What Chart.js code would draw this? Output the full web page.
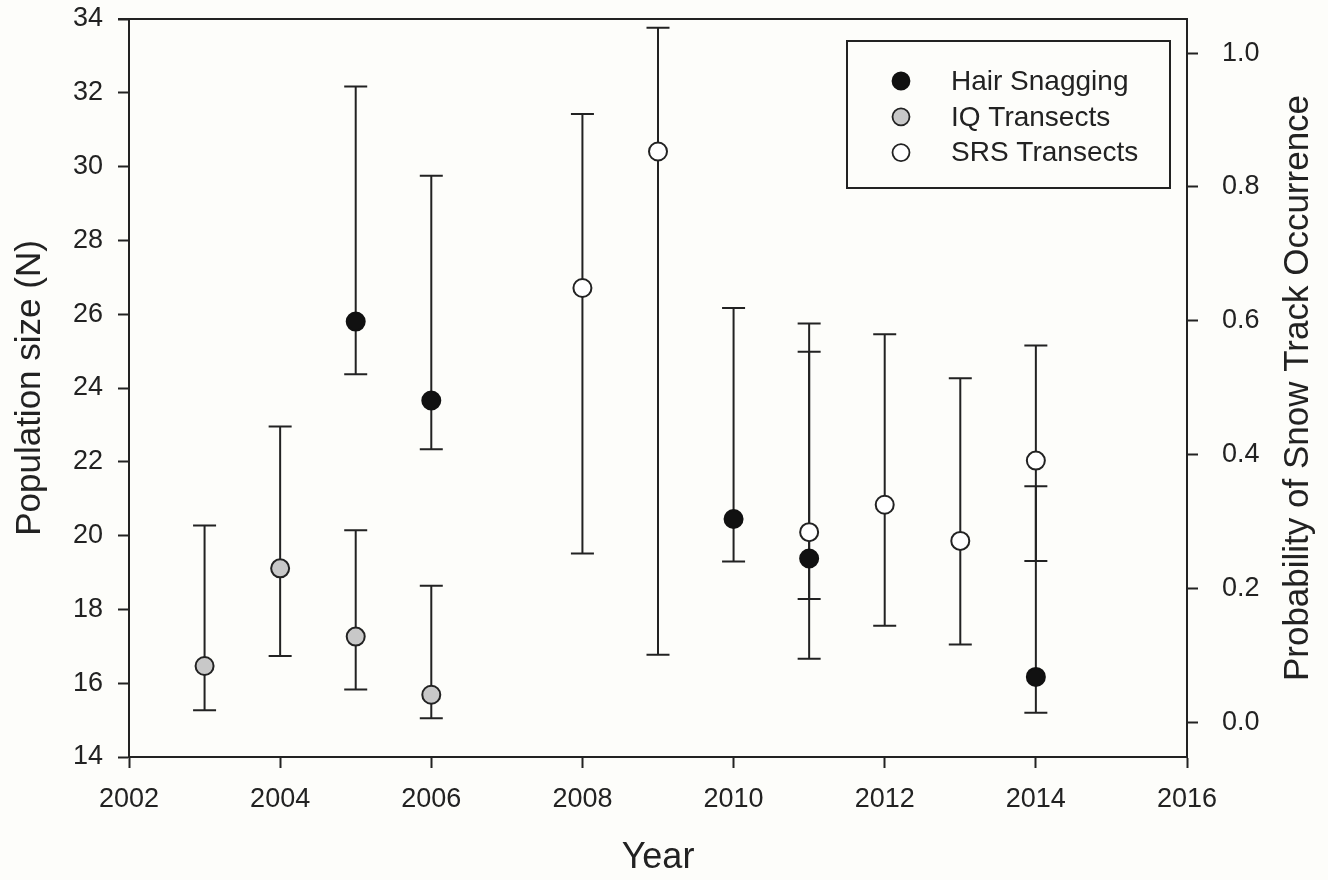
<!DOCTYPE html>
<html>
<head>
<meta charset="utf-8">
<script src="https://cdn.jsdelivr.net/npm/chart.js@4.4.0/dist/chart.umd.min.js"></script>
<style>
  body { margin: 0; background: #fdfdfa; }
  #wrap { width: 1328px; height: 880px; }
</style>
</head>
<body>
<div id="wrap"><canvas id="graph"></canvas></div>
<script>
// Hair snagging: population size (left axis)
const hairYears = [2005, 2006, 2010, 2011, 2014];
const hairN = [25.8, 23.66, 20.45, 19.38, 16.17];
const hairLow = [24.37, 22.34, 19.3, 18.28, 15.2];
const hairHigh = [32.17, 29.75, 26.17, 24.98, 21.34];

// IQ transects: probability of snow track occurrence (right axis)
const iqYears = [2003, 2004, 2005, 2006];
const iqProb = [0.084, 0.23, 0.128, 0.041];
const iqLow = [0.018, 0.099, 0.049, 0.006];
const iqHigh = [0.294, 0.442, 0.287, 0.204];

// SRS transects (right axis)
const srsYears = [2008, 2009, 2011, 2012, 2013, 2014];
const srsProb = [0.649, 0.853, 0.284, 0.325, 0.271, 0.391];
const srsLow = [0.252, 0.101, 0.095, 0.144, 0.116, 0.241];
const srsHigh = [0.909, 1.038, 0.596, 0.58, 0.514, 0.563];

const yearTicks = [2002, 2004, 2006, 2008, 2010, 2012, 2014, 2016];
const popTicks = [14, 16, 18, 20, 22, 24, 26, 28, 30, 32, 34];
const probTicks = [0, 0.2, 0.4, 0.6, 0.8, 1.0];

const rightTitle = 'Probability of Snow Track Occurrence';

const ink = '#222';
const fontFamily = 'Arial, "Liberation Sans", sans-serif';

function toPoints(years, vals, lo, hi) {
    return years.map((x, i) => ({x: x, y: vals[i], lo: lo[i], hi: hi[i]}));
}

const background = {
    id: 'background',
    beforeDraw: (chart) => {
        const {ctx} = chart;
        ctx.save();
        ctx.fillStyle = '#fdfdfa';
        ctx.fillRect(0, 0, chart.width, chart.height);
        ctx.restore();
    }
};

// vertical error bars with caps, drawn under the points
const errorBars = {
    id: 'errorBars',
    beforeDatasetsDraw: (chart) => {
        const {ctx} = chart;
        const xScale = chart.scales.x;
        ctx.save();
        ctx.strokeStyle = ink;
        ctx.lineWidth = 2;
        chart.data.datasets.forEach((ds) => {
            const yScale = chart.scales[ds.yAxisID];
            ds.data.forEach((p) => {
                const x = xScale.getPixelForValue(p.x);
                const y1 = yScale.getPixelForValue(p.lo);
                const y2 = yScale.getPixelForValue(p.hi);
                ctx.beginPath();
                ctx.moveTo(x, y1);
                ctx.lineTo(x, y2);
                ctx.moveTo(x - 11.5, y1);
                ctx.lineTo(x + 11.5, y1);
                ctx.moveTo(x - 11.5, y2);
                ctx.lineTo(x + 11.5, y2);
                ctx.stroke();
            });
        });
        ctx.restore();
    },
    afterDraw: (chart) => {
        const {ctx, chartArea} = chart;
        ctx.save();
        // top frame line
        ctx.strokeStyle = ink;
        ctx.lineWidth = 2;
        ctx.beginPath();
        ctx.moveTo(chartArea.left - 11, chartArea.top);
        ctx.lineTo(chartArea.right, chartArea.top);
        ctx.stroke();
        // right axis title, reading bottom to top
        ctx.translate(1298, (chartArea.top + chartArea.bottom) / 2);
        ctx.rotate(-Math.PI / 2);
        ctx.fillStyle = ink;
        ctx.font = '35px ' + fontFamily;
        ctx.textAlign = 'center';
        ctx.textBaseline = 'middle';
        ctx.fillText(rightTitle, 0, 0);
        ctx.restore();
    }
};

// boxed legend in the top right of the plot
const boxLegend = {
    id: 'boxLegend',
    afterDraw: (chart) => {
        const {ctx, chartArea} = chart;
        const right = chartArea.right - 17;
        const left = right - 323;
        const top = chartArea.top + 22;
        const h = 147;
        ctx.save();
        ctx.strokeStyle = ink;
        ctx.lineWidth = 2;
        ctx.strokeRect(left, top, right - left, h);
        ctx.font = '28px ' + fontFamily;
        ctx.textBaseline = 'middle';
        chart.data.datasets.forEach((ds, i) => {
            const y = top + 40 + i * 35.8;
            ctx.beginPath();
            ctx.arc(left + 54, y, 8.5, 0, Math.PI * 2);
            ctx.fillStyle = ds.backgroundColor;
            ctx.fill();
            ctx.lineWidth = 1.8;
            ctx.strokeStyle = ds.borderColor;
            ctx.stroke();
            ctx.fillStyle = ink;
            ctx.fillText(ds.label, left + 104, y + 1);
        });
        ctx.restore();
    }
};

const tickFont = {family: fontFamily, size: 27};

const ctx = document.getElementById('graph');
const chart = new Chart(ctx, {
    type: 'scatter',
    data: {
        datasets: [{
            label: 'Hair Snagging',
            data: toPoints(hairYears, hairN, hairLow, hairHigh),
            yAxisID: 'y',
            backgroundColor: '#111',
            borderColor: '#111',
            borderWidth: 2,
            pointRadius: 9,
            pointHoverRadius: 9
        }, {
            label: 'IQ Transects',
            data: toPoints(iqYears, iqProb, iqLow, iqHigh),
            yAxisID: 'y2',
            backgroundColor: '#c8c8c8',
            borderColor: '#222',
            borderWidth: 2,
            pointRadius: 9,
            pointHoverRadius: 9
        }, {
            label: 'SRS Transects',
            data: toPoints(srsYears, srsProb, srsLow, srsHigh),
            yAxisID: 'y2',
            backgroundColor: '#ffffff',
            borderColor: '#222',
            borderWidth: 2,
            pointRadius: 9,
            pointHoverRadius: 9
        }]
    },
    options: {
        responsive: true,
        maintainAspectRatio: false,
        animation: false,
        layout: {padding: {top: 19, left: 0, right: 0, bottom: 0}},
        plugins: {
            legend: {display: false},
            tooltip: {enabled: false}
        },
        scales: {
            x: {
                type: 'linear',
                position: 'bottom',
                min: 2002,
                max: 2016,
                afterBuildTicks: (scale) => { scale.ticks = yearTicks.map(v => ({value: v})); },
                afterFit: (scale) => {
                    scale.height = 123;
                    scale.paddingLeft = 0;
                    scale.paddingRight = 0;
                },
                ticks: {color: ink, font: tickFont, padding: 15, maxRotation: 0, callback: (v) => String(v)},
                grid: {drawOnChartArea: false, tickLength: 11, tickWidth: 2, tickColor: ink},
                border: {color: ink, width: 2},
                title: {display: true, text: 'Year', color: ink, font: {family: fontFamily, size: 36}, padding: {top: 0, bottom: 0}}
            },
            y: {
                type: 'linear',
                position: 'left',
                min: 14,
                max: 34,
                afterBuildTicks: (scale) => { scale.ticks = popTicks.map(v => ({value: v})); },
                afterFit: (scale) => {
                    scale.width = 129;
                    scale.paddingTop = 0;
                    scale.paddingBottom = 0;
                },
                ticks: {color: ink, font: tickFont, padding: 15},
                grid: {drawOnChartArea: false, tickLength: 11, tickWidth: 2, tickColor: ink},
                border: {color: ink, width: 2},
                title: {display: true, text: 'Population size (N)', color: ink, font: {family: fontFamily, size: 35}, padding: {top: 9, bottom: 0}}
            },
            y2: {
                type: 'linear',
                position: 'right',
                min: -0.052,
                max: 1.051,
                afterBuildTicks: (scale) => { scale.ticks = probTicks.map(v => ({value: v})); },
                afterFit: (scale) => {
                    scale.width = 141;
                    scale.paddingTop = 0;
                    scale.paddingBottom = 0;
                },
                ticks: {color: ink, font: tickFont, padding: 24, callback: (v) => v.toFixed(1)},
                grid: {drawOnChartArea: false, tickLength: 11, tickWidth: 2, tickColor: ink},
                border: {color: ink, width: 2}
            }
        }
    },
    plugins: [background, errorBars, boxLegend]
});
</script>
</body>
</html>
